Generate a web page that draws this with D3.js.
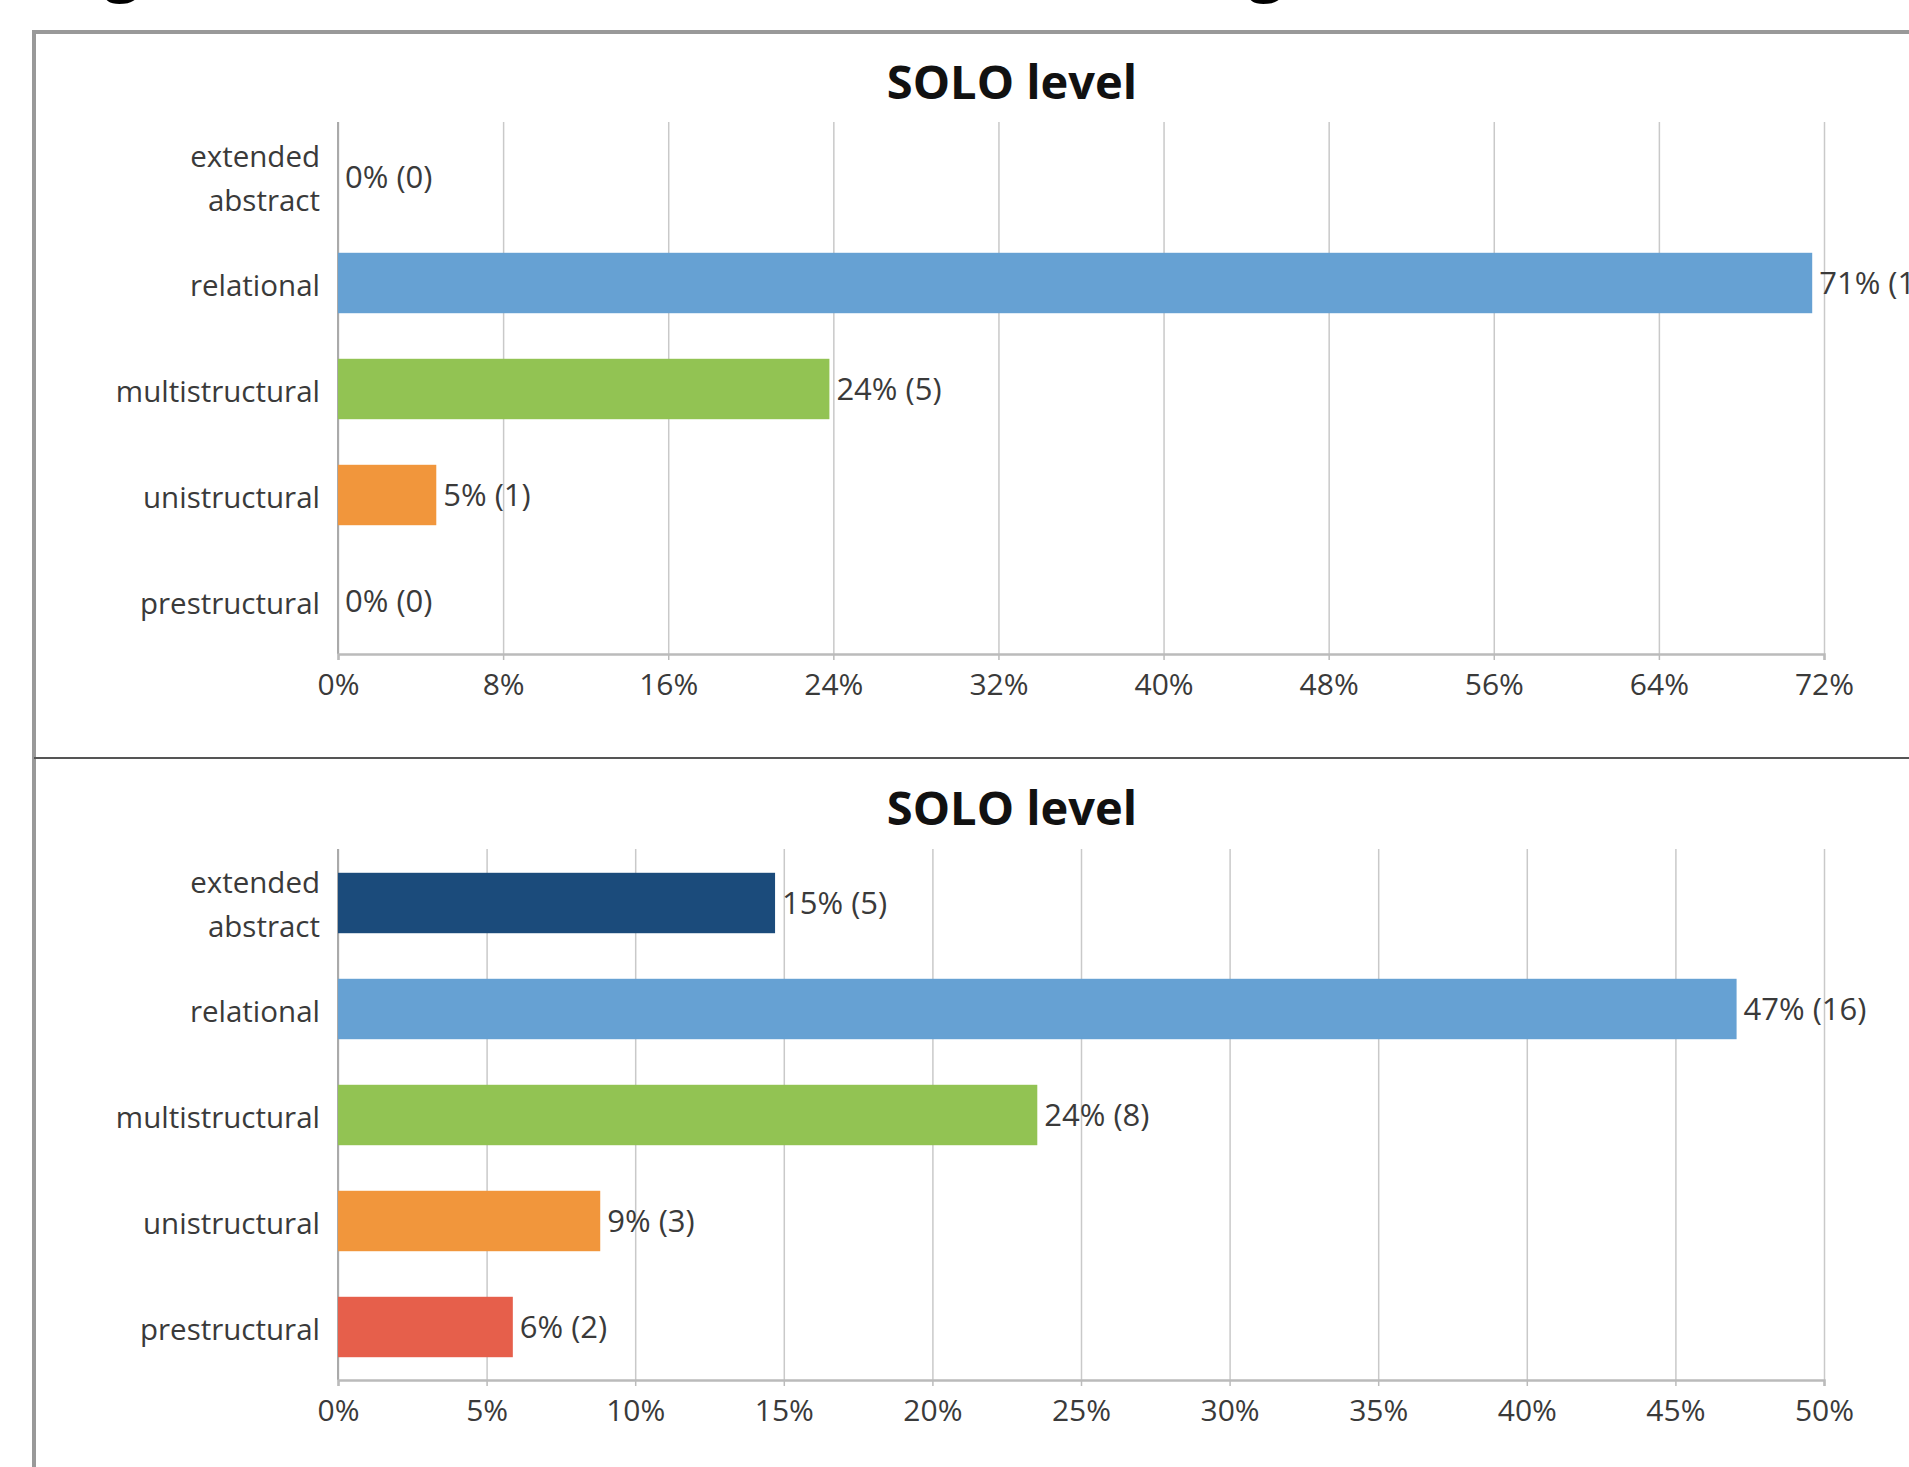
<!DOCTYPE html>
<html>
<head>
<meta charset="utf-8">
<script src="https://cdn.jsdelivr.net/npm/d3@7"></script>
<style>
    html, body { margin: 0; padding: 0; background: #fff; overflow: hidden; }
    svg { display: block; }
    .chart__axis text { font-family: "Open Sans", sans-serif; font-size: 30px; fill: #3a3a3a; }
    .chart__axis--y text { font-size: 29.5px; }
    .chart__grid line { stroke: #c9c9c9; stroke-width: 1.5; }
    .chart__grid path { display: none; }
</style>
</head>
<body>
<div id="chart"></div>
<script>
var categories = ['extended abstract', 'relational', 'multistructural', 'unistructural', 'prestructural'];
var colors = ['#1b4b7b', '#66a1d3', '#92c353', '#f1963c', '#e65f4b'];

// group 1, n = 21
var countsTop = [0, 15, 5, 1, 0];
var totalTop = 21;
var ticksTop = [0, 8, 16, 24, 32, 40, 48, 56, 64, 72];

// group 2, n = 34
var countsBottom = [5, 16, 8, 3, 2];
var totalBottom = 34;
var ticksBottom = [0, 5, 10, 15, 20, 25, 30, 35, 40, 45, 50];

var panelTitle = 'SOLO level';

var width = 1909,
    height = 1467;

var svg = d3.select('#chart').append('svg')
    .attr('width', width)
    .attr('height', height)
    .attr('viewBox', '0 0 ' + width + ' ' + height);

// bits of the heading that the crop cut off
svg.append('text')
    .attr('x', 104).attr('y', -12)
    .attr('font-family', 'Open Sans, sans-serif').attr('font-weight', 700).attr('font-size', 64)
    .attr('fill', '#000').text('g');
svg.append('text')
    .attr('x', 1248).attr('y', -12)
    .attr('font-family', 'Open Sans, sans-serif').attr('font-weight', 700).attr('font-size', 64)
    .attr('fill', '#000').text('g');

// outer frame, runs off the right and bottom edge
svg.append('rect')
    .attr('x', 34).attr('y', 32)
    .attr('width', width + 20).attr('height', height + 20)
    .attr('fill', '#fff').attr('stroke', '#999').attr('stroke-width', 4);
svg.append('line')
    .attr('x1', 34).attr('x2', width)
    .attr('y1', 758).attr('y2', 758)
    .attr('stroke', '#555').attr('stroke-width', 2);

function drawPanel(opts) {
    var counts = opts.counts,
        total = opts.total,
        ticks = opts.ticks;

    var data = categories.map(function (c, i) {
        return { label: c, count: counts[i], pct: counts[i] / total * 100, color: colors[i] };
    });

    var scaleX = d3.scaleLinear()
        .domain([0, ticks[ticks.length - 1]])
        .range([338, 1824]);

    var scaleY = d3.scaleBand()
        .domain(categories)
        .range([opts.top, opts.bottom])
        .paddingInner(0.43)
        .paddingOuter(0.215);

    var g = svg.append('g');

    g.append('text')
        .attr('x', 1012).attr('y', opts.titleY)
        .attr('text-anchor', 'middle')
        .attr('font-family', 'Open Sans, sans-serif')
        .attr('font-weight', 700)
        .attr('font-size', 47)
        .attr('fill', '#111')
        .text(panelTitle);

    // vertical gridlines
    g.append('g').attr('class', 'chart__grid')
        .attr('transform', 'translate(0,' + opts.bottom + ')')
        .call(d3.axisBottom(scaleX).tickValues(ticks).tickSize(-(opts.bottom - opts.gridTop)).tickFormat(''));

    // left axis line
    g.append('line')
        .attr('x1', scaleX(0)).attr('x2', scaleX(0))
        .attr('y1', opts.gridTop).attr('y2', opts.bottom)
        .attr('stroke', '#aaa').attr('stroke-width', 2);

    var xAxis = g.append('g').attr('class', 'chart__axis chart__axis--x')
        .attr('transform', 'translate(0,' + opts.bottom + ')')
        .call(d3.axisBottom(scaleX)
            .tickValues(ticks)
            .tickSize(6)
            .tickPadding(14)
            .tickFormat(function (d) { return d + '%'; }));
    xAxis.select('.domain').attr('stroke', '#bbb').attr('stroke-width', 2.5);
    xAxis.selectAll('.tick line').attr('stroke', '#bbb').attr('stroke-width', 1.5);

    var yAxis = g.append('g').attr('class', 'chart__axis chart__axis--y')
        .attr('transform', 'translate(' + scaleX(0) + ',0)')
        .call(d3.axisLeft(scaleY).tickSize(0).tickPadding(18));
    yAxis.select('.domain').remove();
    yAxis.selectAll('.tick text').each(function (d) {
        var words = d.split(' ');
        var text = d3.select(this).text(null).attr('dy', null);
        if (words.length > 1) {
            words.forEach(function (w, i) {
                text.append('tspan')
                    .attr('x', -18)
                    .attr('y', i === 0 ? -10 : 34)
                    .text(w);
            });
        } else {
            text.append('tspan').attr('x', -18).attr('y', 13).text(d);
        }
    });

    g.selectAll('.chart__bar').data(data).enter().append('rect')
        .attr('class', 'chart__bar')
        .attr('x', scaleX(0))
        .attr('y', function (d) { return scaleY(d.label); })
        .attr('width', function (d) { return scaleX(d.pct) - scaleX(0); })
        .attr('height', scaleY.bandwidth())
        .attr('fill', function (d) { return d.color; });

    g.selectAll('.chart__value').data(data).enter().append('text')
        .attr('class', 'chart__value')
        .attr('x', function (d) { return scaleX(d.pct) + 7; })
        .attr('y', function (d) { return scaleY(d.label) + scaleY.bandwidth() / 2 + 11; })
        .attr('font-family', 'Open Sans, sans-serif')
        .attr('font-size', 31)
        .attr('fill', '#3a3a3a')
        .text(function (d) { return Math.round(d.pct) + '% (' + d.count + ')'; });
}

drawPanel({ counts: countsTop, total: totalTop, ticks: ticksTop, titleY: 99, gridTop: 122, top: 124, bottom: 654 });
drawPanel({ counts: countsBottom, total: totalBottom, ticks: ticksBottom, titleY: 825, gridTop: 849, top: 850, bottom: 1380 });
</script>
</body>
</html>
